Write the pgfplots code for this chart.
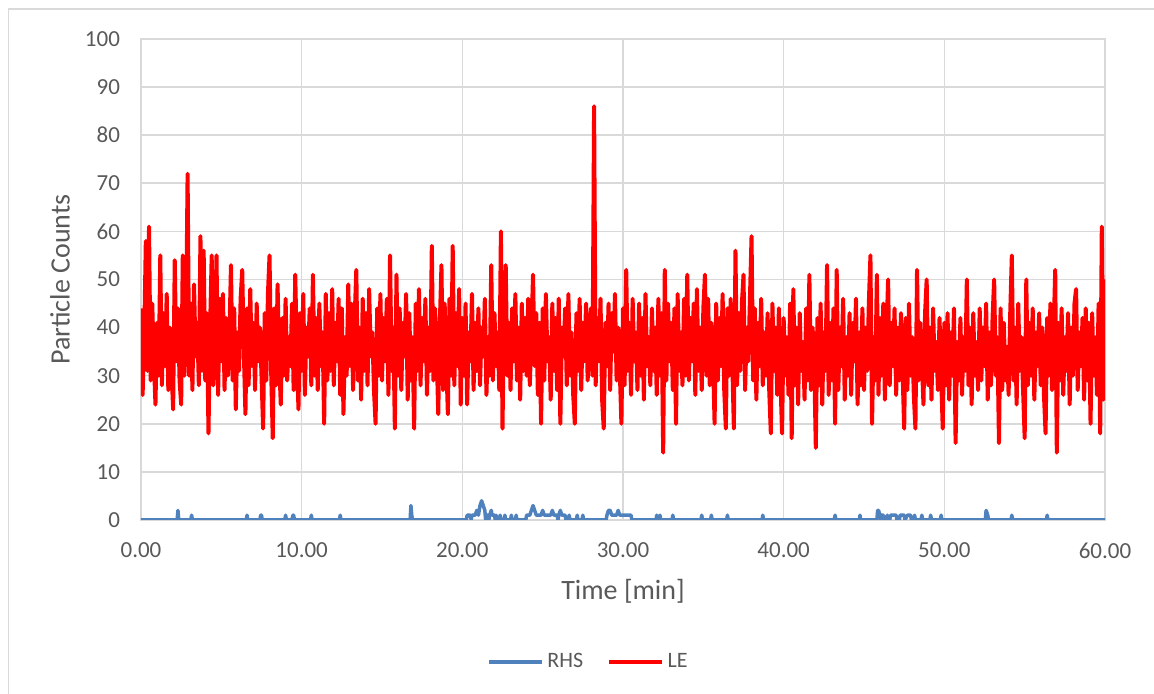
\documentclass[border=0pt]{standalone}
\usepackage{fontspec}
\setmainfont{Carlito}
\usepackage{pgfplots}
\pgfplotsset{compat=1.18}
\definecolor{txt}{HTML}{595959}
\definecolor{grd}{HTML}{D9D9D9}
\definecolor{rhs}{HTML}{4F81BD}
\definecolor{le}{HTML}{FF0000}
\begin{document}
\begin{tikzpicture}
\begin{axis}[
 width=482pt, height=240.5pt, scale only axis,
 xmin=0, xmax=60, ymin=0, ymax=100,
 xtick={0,10,...,60}, ytick={0,10,...,100},
 grid=major, grid style={draw=grd, line width=0.8pt},
 axis line style={draw=grd, line width=0.8pt},
 major tick length=0pt,
 tick label style={font=\fontsize{11.5}{13}\selectfont, text=txt},
 /pgf/number format/assume math mode=true,
 xticklabel style={/pgf/number format/.cd, fixed, fixed zerofill, precision=2, /tikz/.cd, yshift=-8pt},
 yticklabel style={xshift=-7pt},
 xlabel={Time [min]}, ylabel={Particle Counts},
 xlabel style={at={(axis description cs:0.5,-0.1476)}, anchor=center, font=\fontsize{14}{16}\selectfont, text=txt},
 ylabel style={at={(axis description cs:-0.084,0.5)}, anchor=center, font=\fontsize{14}{16}\selectfont, text=txt},
 legend style={at={(axis description cs:0.465,-0.295)}, anchor=center, draw=none, fill=none,
   font=\fontsize{11}{13}\selectfont, text=txt, legend columns=2,
   /tikz/every even column/.append style={column sep=10pt}},
 legend image code/.code={\draw[#1, line width=1.75pt] (0pt,0pt) -- (26.5pt,0pt);},
]
\addplot[rhs, line width=1.75pt, line join=round] coordinates {
(0,0)(2.25,0)(2.3,2)(2.35,0)(3.1,0)(3.15,1)(3.2,0)(6.55,0)(6.6,1)(6.65,0)(7.4,0)(7.45,1)(7.5,1)(7.55,0)
(8.95,0)(9.0,1)(9.05,0)(9.4,0)(9.45,1)(9.5,1)(9.55,0)(10.55,0)(10.6,1)(10.65,0)(12.35,0)(12.4,1)(12.45,0)
(16.75,0)(16.8,3)(16.85,1)(16.9,0)
(20.25,0)(20.3,1)(20.5,1)(20.55,0)(20.6,1)(20.8,1)(20.9,2)(21.0,1)(21.1,3)(21.2,4)(21.3,3)(21.4,2)(21.45,0)
(21.5,1)(21.6,1)(21.65,0)(21.7,1)(21.8,2)(21.85,1)(21.9,1)(22.0,1)(22.05,0)(22.1,1)(22.15,0)(22.3,0)(22.35,1)(22.4,0)
(22.6,0)(22.65,1)(22.7,0)(23.0,0)(23.05,1)(23.1,0)(23.3,0)(23.35,1)(23.4,0)
(23.95,0)(24.0,1)(24.2,1)(24.3,2)(24.4,3)(24.5,2)(24.6,1)(24.9,1)(25.0,2)(25.1,1)(25.5,1)(25.6,2)(25.7,1)(25.9,1)(25.95,0)
(26.0,1)(26.1,2)(26.2,1)(26.4,1)(26.45,0)(26.6,0)(26.65,1)(26.7,0)(27.1,0)(27.15,1)(27.2,0)(27.45,0)(27.5,1)(27.55,0)
(28.95,0)(29.0,1)(29.1,2)(29.2,2)(29.3,1)(29.6,1)(29.7,2)(29.8,1)(30.4,1)(30.5,1)(30.55,0)
(32.05,0)(32.1,1)(32.15,0)(32.25,0)(32.3,1)(32.35,0)(33.05,0)(33.1,1)(33.15,0)(34.85,0)(34.9,1)(34.95,0)
(35.45,0)(35.5,1)(35.55,0)(36.45,0)(36.5,1)(36.55,0)(38.65,0)(38.7,1)(38.75,0)
(43.15,0)(43.2,1)(43.25,0)(44.7,0)(44.75,1)(44.8,0)(45.8,0)(45.85,2)(45.9,2)(46.0,1)(46.05,0)(46.1,1)(46.2,1)(46.25,0)
(46.4,0)(46.45,1)(46.5,0)(46.6,0)(46.65,1)(46.8,1)(46.9,1)(47.0,1)(47.05,0)(47.2,0)(47.25,1)(47.5,1)(47.55,0)
(47.7,1)(47.9,1)(47.95,0)(48.1,0)(48.15,1)(48.2,0)(48.55,0)(48.6,1)(48.65,0)(49.1,0)(49.15,1)(49.2,0)(49.75,0)(49.8,1)(49.85,0)
(52.55,0)(52.6,2)(52.7,1)(52.75,0)(54.15,0)(54.2,1)(54.25,0)(56.35,0)(56.4,1)(56.45,0)(60,0)
};
\addlegendentry{RHS}
\addplot[le, line width=2pt, line join=round] coordinates {
(0.0,44)(0.1,26)(0.2,38)(0.3,58)(0.4,31)(0.5,61)(0.6,29)(0.7,45)(0.8,33)(0.9,24)
(1.0,41)(1.1,30)(1.2,55)(1.3,28)(1.4,43)(1.5,32)(1.6,47)(1.7,27)(1.8,40)(1.9,31)
(2.0,23)(2.1,54)(2.2,33)(2.3,44)(2.4,29)(2.5,24)(2.6,55)(2.7,30)(2.8,38)(2.9,72)
(3.0,30)(3.1,45)(3.2,27)(3.3,49)(3.4,34)(3.5,41)(3.6,28)(3.7,59)(3.8,31)(3.9,56)
(4.0,29)(4.1,43)(4.2,18)(4.3,40)(4.4,55)(4.5,28)(4.6,37)(4.7,55)(4.8,26)(4.9,46)
(5.0,33)(5.1,47)(5.2,27)(5.3,42)(5.4,30)(5.5,38)(5.6,53)(5.7,29)(5.8,44)(5.9,23)
(6.0,39)(6.1,31)(6.2,46)(6.3,52)(6.4,35)(6.5,22)(6.6,44)(6.7,28)(6.8,48)(6.9,32)
(7.0,41)(7.1,27)(7.2,45)(7.3,33)(7.4,40)(7.5,30)(7.6,19)(7.7,43)(7.8,29)(7.9,47)
(8.0,55)(8.1,31)(8.2,17)(8.3,44)(8.4,28)(8.5,49)(8.6,33)(8.7,24)(8.8,42)(8.9,30)
(9.0,46)(9.1,29)(9.2,38)(9.3,32)(9.4,45)(9.5,27)(9.6,51)(9.7,35)(9.8,23)(9.9,43)
(10.0,31)(10.1,47)(10.2,26)(10.3,40)(10.4,34)(10.5,44)(10.6,28)(10.7,51)(10.8,30)(10.9,42)
(11.0,27)(11.1,45)(11.2,32)(11.3,39)(11.4,20)(11.5,47)(11.6,29)(11.7,43)(11.8,31)(11.9,48)
(12.0,28)(12.1,41)(12.2,33)(12.3,46)(12.4,26)(12.5,44)(12.6,22)(12.7,38)(12.8,30)(12.9,49)
(13.0,32)(13.1,45)(13.2,27)(13.3,42)(13.4,52)(13.5,29)(13.6,40)(13.7,25)(13.8,46)(13.9,31)
(14.0,43)(14.1,28)(14.2,48)(14.3,34)(14.4,39)(14.5,27)(14.6,20)(14.7,44)(14.8,30)(14.9,47)
(15.0,29)(15.1,42)(15.2,33)(15.3,46)(15.4,26)(15.5,55)(15.6,31)(15.7,40)(15.8,19)(15.9,51)
(16.0,30)(16.1,44)(16.2,27)(16.3,41)(16.4,34)(16.5,47)(16.6,25)(16.7,43)(16.8,29)(16.9,38)
(17.0,19)(17.1,45)(17.2,31)(17.3,48)(17.4,28)(17.5,42)(17.6,33)(17.7,46)(17.8,26)(17.9,40)
(18.0,31)(18.1,57)(18.2,29)(18.3,44)(18.4,35)(18.5,22)(18.6,41)(18.7,53)(18.8,27)(18.9,45)
(19.0,33)(19.1,22)(19.2,46)(19.3,30)(19.4,57)(19.5,28)(19.6,43)(19.7,32)(19.8,48)(19.9,24)
(20.0,42)(20.1,30)(20.2,45)(20.3,24)(20.4,39)(20.5,33)(20.6,47)(20.7,27)(20.8,41)(20.9,31)
(21.0,44)(21.1,28)(21.2,40)(21.3,34)(21.4,46)(21.5,26)(21.6,38)(21.7,30)(21.8,53)(21.9,29)
(22.0,43)(22.1,32)(22.2,39)(22.3,27)(22.4,60)(22.5,19)(22.6,45)(22.7,53)(22.8,30)(22.9,41)
(23.0,27)(23.1,44)(23.2,33)(23.3,47)(23.4,29)(23.5,40)(23.6,25)(23.7,45)(23.8,31)(23.9,42)
(24.0,30)(24.1,46)(24.2,28)(24.3,39)(24.4,51)(24.5,32)(24.6,43)(24.7,26)(24.8,41)(24.9,20)
(25.0,44)(25.1,29)(25.2,47)(25.3,33)(25.4,38)(25.5,25)(25.6,45)(25.7,31)(25.8,42)(25.9,27)
(26.0,46)(26.1,20)(26.2,40)(26.3,34)(26.4,44)(26.5,28)(26.6,47)(26.7,30)(26.8,39)(26.9,26)
(27.0,20)(27.1,43)(27.2,31)(27.3,46)(27.4,27)(27.5,41)(27.6,33)(27.7,45)(27.8,29)(27.9,38)
(28.0,44)(28.1,30)(28.2,86)(28.3,28)(28.4,42)(28.5,33)(28.6,46)(28.7,25)(28.8,19)(28.9,41)
(29.0,32)(29.1,45)(29.2,27)(29.3,43)(29.4,35)(29.5,47)(29.6,29)(29.7,40)(29.8,31)(29.9,20)
(30.0,44)(30.1,28)(30.2,52)(30.3,31)(30.4,41)(30.5,26)(30.6,46)(30.7,33)(30.8,39)(30.9,27)
(31.0,45)(31.1,30)(31.2,42)(31.3,25)(31.4,47)(31.5,32)(31.6,38)(31.7,28)(31.8,44)(31.9,31)
(32.0,40)(32.1,26)(32.2,46)(32.3,30)(32.4,43)(32.5,14)(32.6,52)(32.7,29)(32.8,45)(32.9,33)
(33.0,41)(33.1,27)(33.2,44)(33.3,20)(33.4,47)(33.5,31)(33.6,39)(33.7,28)(33.8,46)(33.9,30)
(34.0,51)(34.1,29)(34.2,42)(34.3,33)(34.4,45)(34.5,26)(34.6,48)(34.7,31)(34.8,40)(34.9,27)
(35.0,44)(35.1,51)(35.2,30)(35.3,46)(35.4,28)(35.5,41)(35.6,34)(35.7,20)(35.8,45)(35.9,29)
(36.0,42)(36.1,32)(36.2,47)(36.3,27)(36.4,19)(36.5,44)(36.6,30)(36.7,46)(36.8,33)(36.9,19)
(37.0,56)(37.1,28)(37.2,43)(37.3,31)(37.4,45)(37.5,51)(37.6,27)(37.7,40)(37.8,33)(37.9,46)
(38.0,59)(38.1,29)(38.2,44)(38.3,25)(38.4,41)(38.5,32)(38.6,46)(38.7,28)(38.8,39)(38.9,30)
(39.0,43)(39.1,27)(39.2,18)(39.3,45)(39.4,31)(39.5,40)(39.6,26)(39.7,44)(39.8,29)(39.9,18)
(40.0,42)(40.1,30)(40.2,38)(40.3,26)(40.4,45)(40.5,17)(40.6,48)(40.7,28)(40.8,40)(40.9,24)
(41.0,43)(41.1,31)(41.2,37)(41.3,25)(41.4,44)(41.5,29)(41.6,51)(41.7,27)(41.8,40)(41.9,33)
(42.0,15)(42.1,42)(42.2,28)(42.3,45)(42.4,24)(42.5,39)(42.6,31)(42.7,53)(42.8,26)(42.9,41)
(43.0,29)(43.1,44)(43.2,20)(43.3,52)(43.4,27)(43.5,40)(43.6,32)(43.7,46)(43.8,25)(43.9,38)
(44.0,30)(44.1,43)(44.2,26)(44.3,41)(44.4,33)(44.5,46)(44.6,24)(44.7,39)(44.8,28)(44.9,44)
(45.0,27)(45.1,40)(45.2,31)(45.3,45)(45.4,55)(45.5,20)(45.6,38)(45.7,29)(45.8,51)(45.9,26)
(46.0,42)(46.1,30)(46.2,45)(46.3,25)(46.4,39)(46.5,50)(46.6,28)(46.7,41)(46.8,32)(46.9,44)
(47.0,26)(47.1,40)(47.2,29)(47.3,43)(47.4,31)(47.5,19)(47.6,42)(47.7,27)(47.8,45)(47.9,30)
(48.0,38)(48.1,26)(48.2,19)(48.3,52)(48.4,29)(48.5,41)(48.6,33)(48.7,24)(48.8,43)(48.9,50)
(49.0,28)(49.1,40)(49.2,25)(49.3,44)(49.4,31)(49.5,37)(49.6,27)(49.7,42)(49.8,30)(49.9,19)
(50.0,41)(50.1,28)(50.2,43)(50.3,25)(50.4,39)(50.5,30)(50.6,44)(50.7,16)(50.8,37)(50.9,29)
(51.0,42)(51.1,26)(51.2,38)(51.3,31)(51.4,50)(51.5,28)(51.6,40)(51.7,24)(51.8,43)(51.9,30)
(52.0,37)(52.1,27)(52.2,44)(52.3,29)(52.4,40)(52.5,32)(52.6,45)(52.7,25)(52.8,39)(52.9,28)
(53.0,42)(53.1,50)(53.2,30)(53.3,38)(53.4,16)(53.5,44)(53.6,27)(53.7,41)(53.8,29)(53.9,36)
(54.0,26)(54.1,43)(54.2,55)(54.3,29)(54.4,40)(54.5,24)(54.6,45)(54.7,31)(54.8,38)(54.9,27)
(55.0,17)(55.1,50)(55.2,28)(55.3,41)(55.4,30)(55.5,44)(55.6,25)(55.7,39)(55.8,32)(55.9,43)
(56.0,28)(56.1,40)(56.2,26)(56.3,18)(56.4,42)(56.5,30)(56.6,45)(56.7,27)(56.8,39)(56.9,52)
(57.0,14)(57.1,41)(57.2,29)(57.3,44)(57.4,26)(57.5,38)(57.6,31)(57.7,43)(57.8,24)(57.9,40)
(58.0,30)(58.1,45)(58.2,48)(58.3,27)(58.4,39)(58.5,32)(58.6,42)(58.7,25)(58.8,44)(58.9,29)
(59.0,41)(59.1,20)(59.2,43)(59.3,30)(59.4,38)(59.5,26)(59.6,45)(59.7,18)(59.8,61)(59.9,25)
(60.0,50)
};
\addlegendentry{LE}
\end{axis}
\draw[grd, line width=0.8pt] (-66.25pt,-87pt) -- (-66.25pt,255.5pt) -- (506.5pt,255.5pt);
\pgfresetboundingbox
\path (-70.5pt,-87pt) rectangle (506.5pt,260pt);
\end{tikzpicture}
\end{document}
